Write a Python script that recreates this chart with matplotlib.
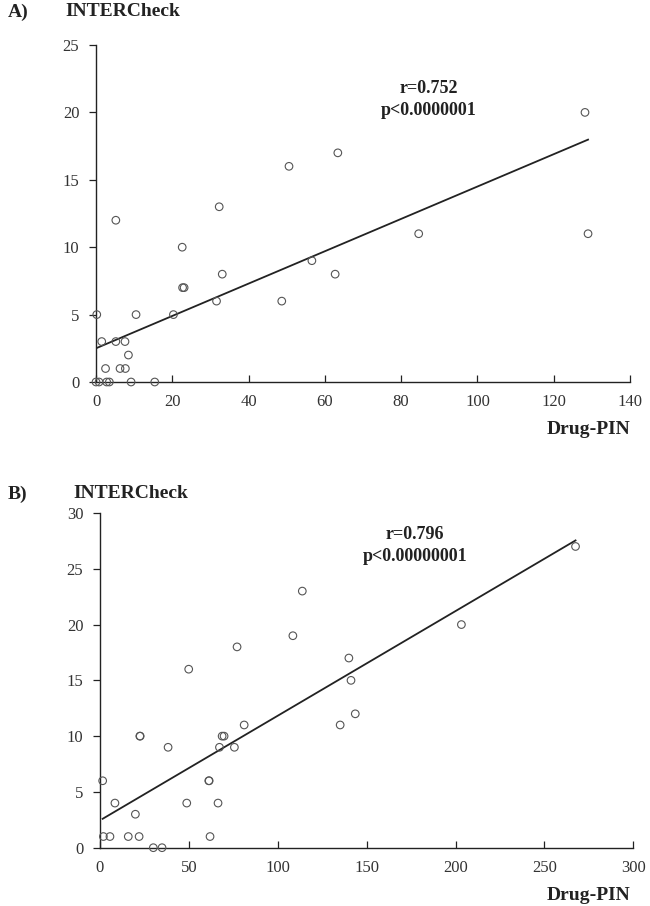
import matplotlib
matplotlib.use("Agg")
import matplotlib.pyplot as plt
import numpy as np

plt.rcParams['font.family'] = ['Liberation Serif', 'DejaVu Serif']

# Panel A data (Drug-PIN vs INTERCheck)
a_x = [0.2, 1.5, 5.2, 7.6, 10.5, 20.3, 22.7, 23.1, 31.6, 2.5, 6.3, 7.7, 8.5,
       0.0, 0.8, 2.8, 3.5, 9.2, 15.4, 5.2, 22.6, 32.3, 33.1, 50.6, 63.4, 56.6,
       62.7, 84.6, 48.7, 128.2, 129.0]
a_y = [5, 3, 3, 3, 5, 5, 7, 7, 6, 1, 1, 1, 2,
       0, 0, 0, 0, 0, 0, 12, 10, 13, 8, 16, 17, 9,
       8, 11, 6, 20, 11]
a_fit = (2.5, 0.120)   # intercept, slope
a_xticks = [0, 20, 40, 60, 80, 100, 120, 140]
a_yticks = [0, 5, 10, 15, 20, 25]

# Panel B data
b_x = [1.5, 1.9, 5.6, 8.4, 15.9, 19.9, 22.0, 22.4, 22.6, 30.0, 34.9, 38.3,
       48.8, 61.2, 61.4, 61.9, 66.4, 67.2, 68.7, 69.8, 75.6, 81.1, 49.9, 77.1,
       108.5, 113.8, 140.0, 141.2, 135.1, 143.6, 203.3, 267.5]
b_y = [6, 1, 1, 4, 1, 3, 1, 10, 10, 0, 0, 9,
       4, 6, 6, 1, 4, 9, 10, 10, 9, 11, 16, 18,
       19, 23, 17, 15, 11, 12, 20, 27]
b_fit = (2.45, 0.0938)
b_xticks = [0, 50, 100, 150, 200, 250, 300]
b_yticks = [0, 5, 10, 15, 20, 25, 30]

fig = plt.figure(figsize=(6.5, 9.06), dpi=100)

def panel(rect, xs, ys, fit, xticks, yticks, letter, r_txt, p_txt, txt_xy, letter_y, title_x):
    ax = fig.add_axes(rect)
    ax.scatter(xs, ys, s=30, facecolors='none', edgecolors='#555555', linewidths=0.8,
               zorder=3, clip_on=False)
    xs_arr = np.array(xs)
    lx = np.array([xs_arr.min(), xs_arr.max()])
    ax.plot(lx, fit[0] + fit[1] * lx, color='#222222', lw=1.3, zorder=2)
    ax.set_xlim(xticks[0], xticks[-1])
    ax.set_ylim(yticks[0], yticks[-1])
    ax.set_xticks(xticks)
    ax.set_yticks(yticks)
    for s in ['top', 'right']:
        ax.spines[s].set_visible(False)
    for s in ['left', 'bottom']:
        ax.spines[s].set_color('#222222')
        ax.spines[s].set_linewidth(1.0)
    ax.tick_params(axis='x', direction='in', length=5, width=0.9, colors='#222222',
                   labelsize=12, pad=9, labelcolor='#333333')
    ax.tick_params(axis='y', direction='out', length=5, width=0.9, colors='#222222',
                   labelsize=12, pad=7, labelcolor='#333333')
    ax.text(txt_xy[0], txt_xy[1], r_txt + "\n" + p_txt, transform=fig.transFigure,
            ha='center', va='top', fontsize=13, fontweight='bold', color='#222222',
            linespacing=1.35)
    fig.text(8 / 650, letter_y, letter, fontsize=14, fontweight='bold', va='center', color='#222222')
    fig.text(title_x, letter_y, "INTERCheck", fontsize=14, fontweight='bold', va='center', color='#222222')
    return ax

axA = panel([96 / 650, 1 - 382 / 906, 534 / 650, 337 / 906], a_x, a_y, a_fit,
            a_xticks, a_yticks, "A)", "r=0.752", "p<0.0000001",
            (429 / 650, 1 - 80 / 906), 1 - 12 / 906, 65 / 650)
fig.text(630 / 650, 1 - 430 / 906, "Drug-PIN", ha='right', va='center', fontsize=14,
         fontweight='bold', color='#222222')

axB = panel([100 / 650, 1 - 847.7 / 906, 533.3 / 650, 334.7 / 906], b_x, b_y, b_fit,
            b_xticks, b_yticks, "B)", "r=0.796", "p<0.00000001",
            (415 / 650, 1 - 526 / 906), 1 - 494 / 906, 73 / 650)
fig.text(630 / 650, 1 - 895 / 906, "Drug-PIN", ha='right', va='center', fontsize=14,
         fontweight='bold', color='#222222')

fig.savefig("out.png", dpi=100, facecolor='white')
